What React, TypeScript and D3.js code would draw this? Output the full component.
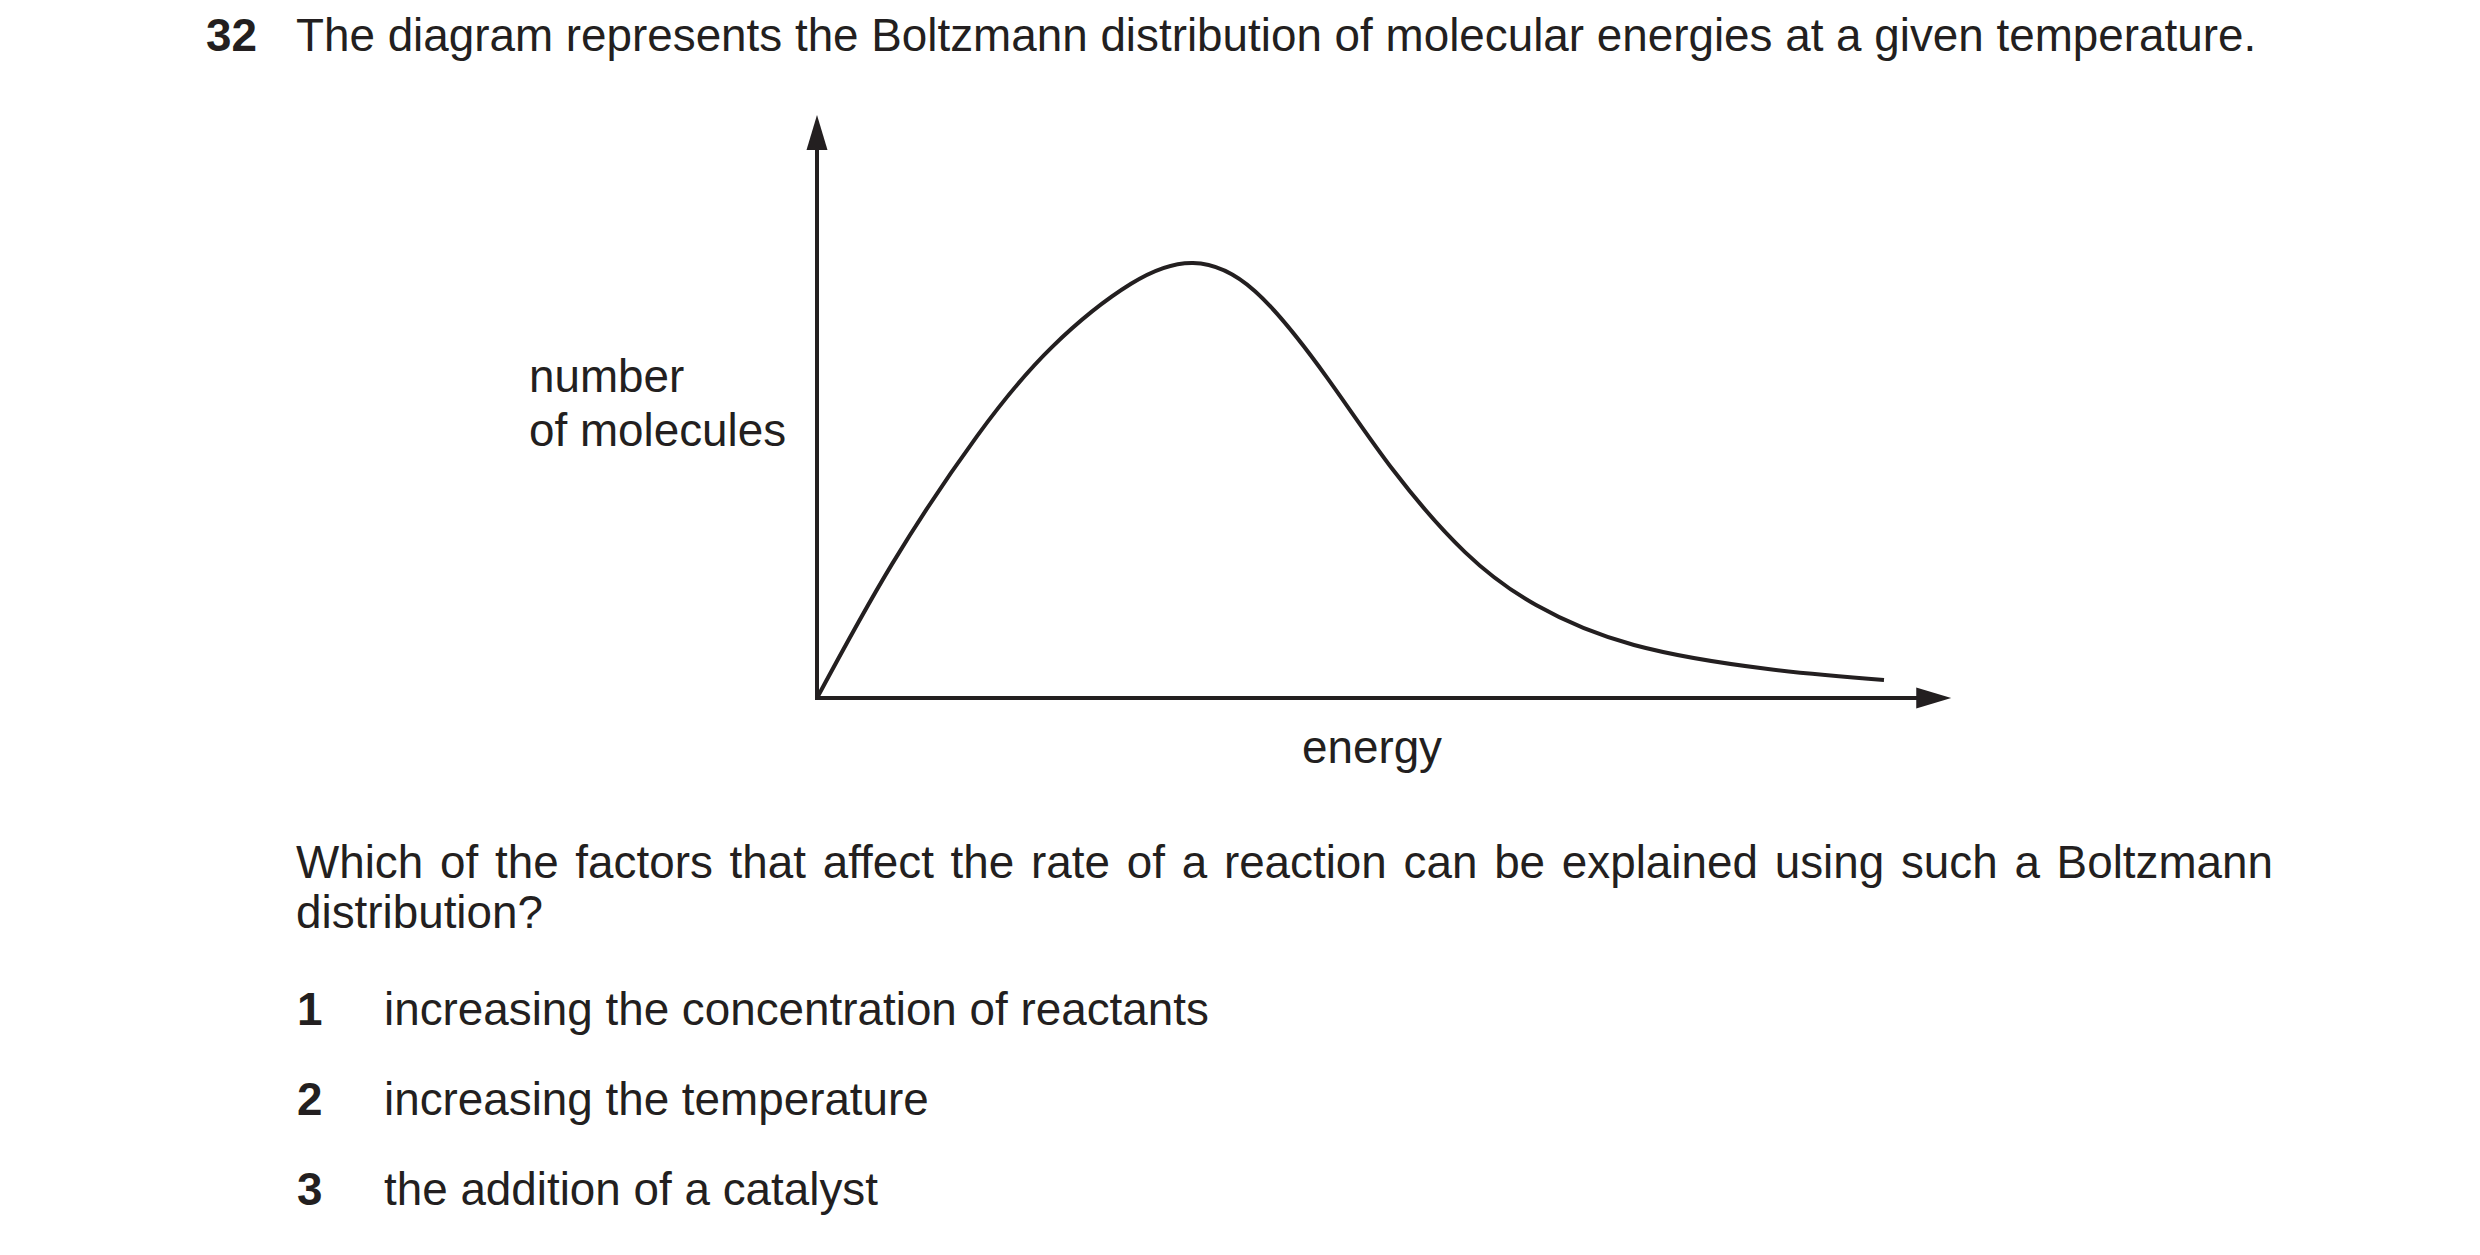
import React, { useLayoutEffect, useRef, useState } from 'react';
import * as d3 from 'd3';

// ---- data ----
const energy = [0, 7.03, 15.0, 22.02, 29.43, 35.24, 41.05, 47.8, 53.98, 60.73, 67.39, 76.57, 89.13, 100];
const molecules = [0, 30.78, 60.21, 80.67, 95.22, 100, 93.52, 73.66, 52.46, 33.54, 21.36, 12.18, 6.67, 4.14];
const xAxisEnd = 106.3;
const yAxisEnd = 134;

// ---- text ----
const questionNumber = '32';
const titleText = 'The diagram represents the Boltzmann distribution of molecular energies at a given temperature.';
const yLabelLines = ['number', 'of molecules'];
const xLabel = 'energy';
const questionLines = ['Which of the factors that affect the rate of a reaction can be explained using such a Boltzmann', 'distribution?'];
const optionNumbers = ['1', '2', '3'];
const optionTexts = ['increasing the concentration of reactants', 'increasing the temperature', 'the addition of a catalyst'];

const INK = '#231f20';
const FONT = '"Liberation Sans", Arial, Helvetica, sans-serif';
const FS = 45.8;

export default function App() {
  const x = d3.scaleLinear().domain([0, 100]).range([817, 1884]);
  const y = d3.scaleLinear().domain([0, 100]).range([698, 263]);
  const pts: [number, number][] = energy.map((e, i) => [e, molecules[i]]);
  const line = d3
    .line<[number, number]>()
    .x((d) => x(d[0]))
    .y((d) => y(d[1]))
    .curve(d3.curveNatural);

  const x0 = x(0);
  const y0 = y(0);
  const xEnd = x(xAxisEnd);
  const yTop = y(yAxisEnd);
  const aLen = 35;
  const aHalf = 10.5;

  // justify first question line via word spacing
  const qRef = useRef<SVGTextElement>(null);
  const [wordSpacing, setWordSpacing] = useState(0);
  const justifyLeft = 296;
  const justifyRight = 2273;
  useLayoutEffect(() => {
    if (qRef.current && wordSpacing === 0) {
      const natural = qRef.current.getComputedTextLength();
      const spaces = (questionLines[0].match(/ /g) || []).length;
      const extra = (justifyRight - justifyLeft - natural) / spaces;
      if (extra > 0) setWordSpacing(extra);
    }
  }, [wordSpacing]);

  return (
    <svg
      width={2480}
      height={1255}
      viewBox="0 0 2480 1255"
      style={{ position: 'absolute', left: 0, top: 0, background: '#fff' }}
      fontFamily={FONT}
      fill={INK}
    >
      <rect x={0} y={0} width={2480} height={1255} fill="#fff" />
      {/* title */}
      <text x={206} y={51} fontSize={FS} fontWeight="bold">{questionNumber}</text>
      <text x={296} y={51} fontSize={FS}>{titleText}</text>

      {/* axes */}
      <line x1={x0} y1={y0} x2={xEnd - aLen + 2} y2={y0} stroke={INK} strokeWidth={4} />
      <line x1={x0} y1={y0 + 2} x2={x0} y2={yTop + aLen - 2} stroke={INK} strokeWidth={4} />
      <polygon points={`${xEnd},${y0} ${xEnd - aLen},${y0 - aHalf} ${xEnd - aLen},${y0 + aHalf}`} fill={INK} />
      <polygon points={`${x0},${yTop} ${x0 - aHalf},${yTop + aLen} ${x0 + aHalf},${yTop + aLen}`} fill={INK} />

      {/* curve */}
      <path d={line(pts) || ''} fill="none" stroke={INK} strokeWidth={4} strokeLinejoin="round" />

      {/* axis labels */}
      {yLabelLines.map((t, i) => (
        <text key={t} x={529} y={392 + i * 54} fontSize={FS}>{t}</text>
      ))}
      <text x={1372} y={763} fontSize={FS} textAnchor="middle">{xLabel}</text>

      {/* question */}
      <text ref={qRef} x={justifyLeft} y={878} fontSize={FS} style={{ wordSpacing: `${wordSpacing}px` }}>{questionLines[0]}</text>
      <text x={justifyLeft} y={928} fontSize={FS}>{questionLines[1]}</text>

      {optionNumbers.map((n, i) => (
        <g key={n}>
          <text x={297} y={1025 + i * 90} fontSize={FS} fontWeight="bold">{n}</text>
          <text x={384} y={1025 + i * 90} fontSize={FS}>{optionTexts[i]}</text>
        </g>
      ))}
    </svg>
  );
}
